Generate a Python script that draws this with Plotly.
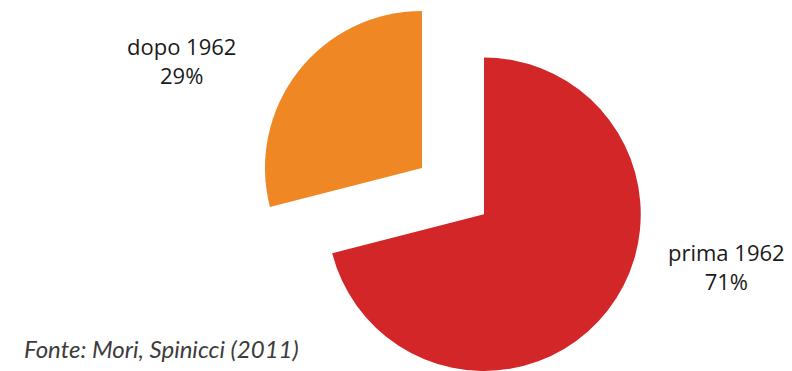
import plotly.graph_objects as go

# Share of buildings by construction period
labels = ["prima 1962", "dopo 1962"]
values = [71, 29]
colors = ["#D32628", "#EF8724"]
source = "Fonte: Mori, Spinicci (2011)"

W, H = 792, 371
TRANSPARENT = "rgba(0,0,0,0)"


def dom(cx, cy, r):
    """Pie domain (paper coords) for a circle centred at pixel (cx, cy)."""
    return dict(
        x=[(cx - r) / W, (cx + r) / W],
        y=[max(0.0, (H - cy - r) / H), min(1.0, (H - cy + r) / H)],
    )


fig = go.Figure()

# main body of the pie: only the first slice is visible
fig.add_trace(go.Pie(
    labels=labels, values=values, sort=False, direction="clockwise", rotation=0,
    marker=dict(colors=[colors[0], TRANSPARENT], line=dict(width=0)),
    textinfo="none", hoverinfo="label+percent", showlegend=False,
    domain=dom(484, 214.5, 157),
))

# exploded slice, shifted towards the upper left
fig.add_trace(go.Pie(
    labels=labels, values=values, sort=False, direction="clockwise", rotation=0,
    marker=dict(colors=[TRANSPARENT, colors[1]], line=dict(width=0)),
    textinfo="none", hoverinfo="label+percent", showlegend=False,
    domain=dom(422, 168, 157),
))

total = sum(values)
label_pos = [(726 / W, 1 - 266 / H), (181 / W, 1 - 61 / H)]
for lab, val, (x, y) in zip(labels, values, label_pos):
    fig.add_annotation(
        x=x, y=y, xref="paper", yref="paper", xanchor="center", yanchor="middle",
        text=f"{lab}<br>{round(100 * val / total)}%", showarrow=False, align="center",
        font=dict(family="Open Sans", size=22, color="#1a1a1a"),
    )

fig.add_annotation(
    x=22 / W, y=1 - 348 / H, xref="paper", yref="paper", xanchor="left", yanchor="middle",
    text=f"<i>{source}</i>", showarrow=False,
    font=dict(family="Lato", size=24, color="#3c3c3c"),
)

fig.update_layout(
    width=W, height=H, margin=dict(l=0, r=0, t=0, b=0),
    paper_bgcolor="white", plot_bgcolor="white",
)

fig.write_html("out.html")
